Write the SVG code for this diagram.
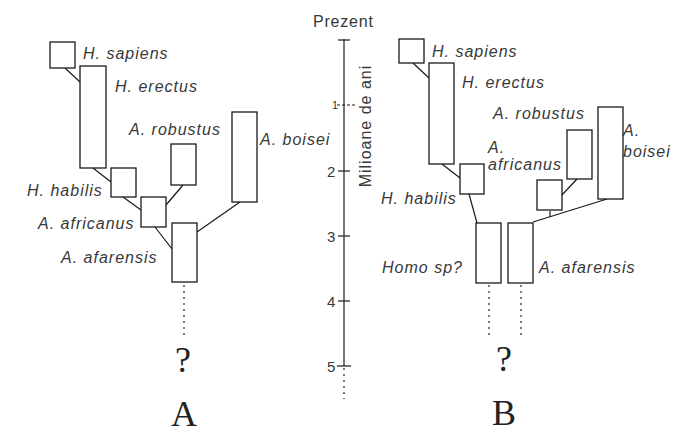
<svg xmlns="http://www.w3.org/2000/svg" width="699" height="438" viewBox="0 0 699 438">
<style>
.box{fill:#fff;stroke:#1a1a1a;stroke-width:1.3}
.lab{font-family:"Liberation Sans",Arial,sans-serif;font-style:italic;font-size:16px;letter-spacing:1px;fill:#383838}
.ax{font-family:"Liberation Sans",Arial,sans-serif;font-size:16px;letter-spacing:0.8px;fill:#383838}
.num{font-family:"Liberation Sans",Arial,sans-serif;font-size:15px;fill:#383838}
.big{font-family:"Liberation Serif","Times New Roman",serif;fill:#222;text-anchor:middle}
.con{stroke:#1a1a1a;stroke-width:1.2;fill:none}
.dot{stroke:#333;stroke-width:1.3;stroke-dasharray:2 4;fill:none}
</style>
<rect width="699" height="438" fill="#fff"/>

<g id="connectors">
  <!-- A -->
  <line class="con" x1="65" y1="68" x2="80" y2="82"/>
  <line class="con" x1="93" y1="168" x2="111" y2="182"/>
  <line class="con" x1="123" y1="197" x2="141" y2="210"/>
  <line class="con" x1="183" y1="185" x2="166" y2="205"/>
  <line class="con" x1="155" y1="227" x2="172" y2="249"/>
  <line class="con" x1="240" y1="202" x2="197" y2="232"/>
  <line class="dot" x1="184" y1="285" x2="184" y2="338"/>
  <!-- B -->
  <line class="con" x1="413" y1="63" x2="429" y2="78"/>
  <line class="con" x1="442" y1="164" x2="460" y2="178"/>
  <line class="con" x1="469" y1="194" x2="477" y2="223"/>
  <line class="con" x1="577" y1="179" x2="562" y2="195"/>
  <line class="con" x1="550" y1="211" x2="550" y2="217"/>
  <line class="con" x1="607" y1="199" x2="533" y2="222"/>
  <line class="dot" x1="489" y1="285" x2="489" y2="338"/>
  <line class="dot" x1="521" y1="285" x2="521" y2="338"/>
</g>

<g id="axis">
  <line class="con" x1="344" y1="39" x2="344" y2="366"/>
  <line class="dot" x1="344" y1="368" x2="344" y2="399"/>
  <line class="con" x1="338" y1="40" x2="350" y2="40"/>
  <line class="con" x1="337" y1="105" x2="357" y2="105" stroke-dasharray="3 2"/>
  <line class="con" x1="338" y1="171" x2="350" y2="171"/>
  <line class="con" x1="338" y1="236" x2="350" y2="236"/>
  <line class="con" x1="338" y1="301" x2="350" y2="301"/>
  <line class="con" x1="337" y1="366" x2="351" y2="366"/>
  <text class="ax" x="313" y="27">Prezent</text>
  <text class="num" x="332" y="109" style="font-size:11px">1</text>
  <text class="num" x="327" y="177">2</text>
  <text class="num" x="327" y="242">3</text>
  <text class="num" x="327" y="307">4</text>
  <text class="num" x="327" y="372">5</text>
  <text class="ax" transform="translate(371,126) rotate(-90)" text-anchor="middle" style="letter-spacing:1px">Milioane de ani</text>
</g>

<g id="A-sapiens"><rect class="box" x="50" y="42" width="25" height="26"/><text class="lab" x="83" y="59">H. sapiens</text></g>
<g id="A-erectus"><rect class="box" x="80" y="66" width="26" height="102"/><text class="lab" x="115" y="92">H. erectus</text></g>
<g id="A-habilis"><rect class="box" x="111" y="168" width="25" height="29"/><text class="lab" x="27" y="196">H. habilis</text></g>
<g id="A-robustus"><rect class="box" x="171" y="144" width="25" height="41"/><text class="lab" x="129" y="135">A. robustus</text></g>
<g id="A-boisei"><rect class="box" x="232" y="112" width="25" height="90"/><text class="lab" x="260" y="145">A. boisei</text></g>
<g id="A-africanus"><rect class="box" x="141" y="197" width="25" height="30"/><text class="lab" x="38" y="229">A. africanus</text></g>
<g id="A-afarensis"><rect class="box" x="172" y="223" width="25" height="59"/><text class="lab" x="61" y="263">A. afarensis</text></g>
<g id="A-labels">
  <text class="big" x="183" y="372" font-size="36">?</text>
  <text class="big" x="184" y="426" font-size="36">A</text>
</g>

<g id="B-sapiens"><rect class="box" x="399" y="39" width="25" height="24"/><text class="lab" x="432" y="57">H. sapiens</text></g>
<g id="B-erectus"><rect class="box" x="429" y="63" width="25" height="101"/><text class="lab" x="462" y="88">H. erectus</text></g>
<g id="B-habilis"><rect class="box" x="460" y="164" width="24" height="30"/><text class="lab" x="381" y="204">H. habilis</text></g>
<g id="B-africanus"><rect class="box" x="537" y="180" width="25" height="30"/><text class="lab" x="488" y="153">A.</text><text class="lab" x="488" y="170">africanus</text></g>
<g id="B-robustus"><rect class="box" x="567" y="130" width="25" height="49"/><text class="lab" x="493" y="119">A. robustus</text></g>
<g id="B-boisei"><rect class="box" x="598" y="107" width="25" height="92"/><text class="lab" x="623" y="136">A.</text><text class="lab" x="623" y="157">boisei</text></g>
<g id="B-homo"><rect class="box" x="476" y="223" width="25" height="60"/><text class="lab" x="382" y="273">Homo sp?</text></g>
<g id="B-afarensis"><rect class="box" x="508" y="223" width="25" height="60"/><text class="lab" x="539" y="273">A. afarensis</text></g>
<g id="B-labels">
  <text class="big" x="504" y="371" font-size="36">?</text>
  <text class="big" x="504" y="425" font-size="36">B</text>
</g>
</svg>
